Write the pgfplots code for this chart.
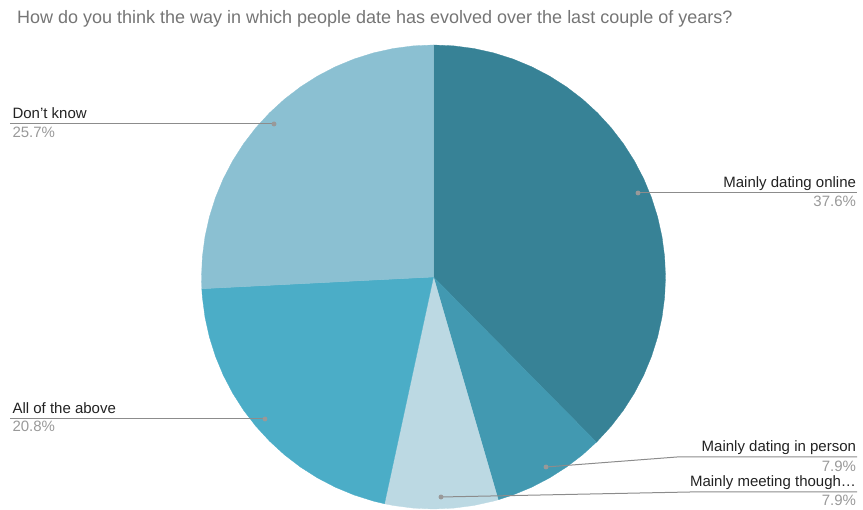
\documentclass[border=0pt]{standalone}
\usepackage{pgfplots}
\pgfplotsset{compat=1.18}
\usepackage{fontspec}
\setmainfont{Liberation Sans}
\definecolor{cOnline}{RGB}{55,130,150}
\definecolor{cPerson}{RGB}{66,153,177}
\definecolor{cMeet}{RGB}{188,217,227}
\definecolor{cAll}{RGB}{75,173,199}
\definecolor{cDont}{RGB}{139,192,210}
\definecolor{cTitle}{RGB}{117,117,117}
\definecolor{cName}{RGB}{34,34,34}
\definecolor{cPct}{RGB}{153,153,153}
\definecolor{cLine}{RGB}{140,140,140}
\begin{document}
\begin{tikzpicture}
\begin{axis}[
  x=1bp, y=1bp, scale only axis,
  xmin=-433.5, xmax=429.5, ymin=-233, ymax=277,
  axis lines=none, ticks=none, clip=false,
  every node/.style={inner sep=0pt, outer sep=0pt},
]
% invisible frame for bounding box
\addplot[draw=none, forget plot] coordinates {(-433.5,-233) (429.5,277)};
% Mainly dating online 37.6%
\addplot[data cs=polar, fill=cOnline, draw=cOnline, line width=0.3bp] coordinates {
(0,0) (90,232) (85,232) (80,232) (75,232) (70,232) (65,232) (60,232) (55,232) (50,232) (45,232) (40,232) (35,232) (30,232) (25,232) (20,232) (15,232) (10,232) (5,232) (0,232) (-5,232) (-10,232) (-15,232) (-20,232) (-25,232) (-30,232) (-35,232) (-40,232) (-45,232) (-45.4,232)} -- cycle;
% Mainly dating in person 7.9%
\addplot[data cs=polar, fill=cPerson, draw=cPerson, line width=0.3bp] coordinates {
(0,0) (-45.4,232) (-50,232) (-55,232) (-60,232) (-65,232) (-70,232) (-73.8,232)} -- cycle;
% Mainly meeting though... 7.9%
\addplot[data cs=polar, fill=cMeet, draw=cMeet, line width=0.3bp] coordinates {
(0,0) (-73.8,232) (-75,232) (-80,232) (-85,232) (-90,232) (-95,232) (-100,232) (-102.2,232)} -- cycle;
% All of the above 20.8%
\addplot[data cs=polar, fill=cAll, draw=cAll, line width=0.3bp] coordinates {
(0,0) (-102.2,232) (-105,232) (-110,232) (-115,232) (-120,232) (-125,232) (-130,232) (-135,232) (-140,232) (-145,232) (-150,232) (-155,232) (-160,232) (-165,232) (-170,232) (-175,232) (-177.1,232)} -- cycle;
% Don't know 25.7%
\addplot[data cs=polar, fill=cDont, draw=cDont, line width=0.3bp] coordinates {
(0,0) (-177.1,232) (-180,232) (-185,232) (-190,232) (-195,232) (-200,232) (-205,232) (-210,232) (-215,232) (-220,232) (-225,232) (-230,232) (-235,232) (-240,232) (-245,232) (-250,232) (-255,232) (-260,232) (-265,232) (-270,232)} -- cycle;
% leader lines
\addplot[cLine, line width=1bp] coordinates {(204.5,84) (423.5,84)};
\addplot[cLine, line width=1bp] coordinates {(112.5,-190) (243.5,-180) (423.5,-180)};
\addplot[cLine, line width=1bp] coordinates {(7.5,-220) (256.5,-215) (423.5,-215)};
\addplot[cLine, line width=1bp] coordinates {(-168.5,-142) (-423.5,-142)};
\addplot[cLine, line width=1bp] coordinates {(-159.5,153) (-423.5,153)};
% dots
\addplot[only marks, mark=*, mark size=2.2bp, cPct, mark options={draw=cPct, fill=cPct}] coordinates {
(204.5,84) (112.5,-190) (7.5,-220) (-168.5,-142) (-159.5,153)};
% title
\node[anchor=base west, text=cTitle, font=\fontsize{18bp}{21bp}\selectfont] at (axis cs:-420,253) {How do you think the way in which people date has evolved over the last couple of years?};
% labels
\begin{scope}[every node/.append style={font=\fontsize{15bp}{17bp}\selectfont}]
\node[anchor=base east, text=cName] at (axis cs:426,89) {Mainly dating online};
\node[anchor=base east, text=cPct] at (axis cs:426,70.5) {37.6\%};
\node[anchor=base east, text=cName] at (axis cs:426,-175) {Mainly dating in person};
\node[anchor=base east, text=cPct] at (axis cs:426,-195) {7.9\%};
\node[anchor=base east, text=cName] at (axis cs:426,-210) {Mainly meeting though…};
\node[anchor=base east, text=cPct] at (axis cs:426,-229) {7.9\%};
\node[anchor=base west, text=cName] at (axis cs:-424.5,158.5) {Don’t know};
\node[anchor=base west, text=cPct] at (axis cs:-424.5,139.5) {25.7\%};
\node[anchor=base west, text=cName] at (axis cs:-424.5,-137) {All of the above};
\node[anchor=base west, text=cPct] at (axis cs:-424.5,-155) {20.8\%};
\end{scope}
\end{axis}
\end{tikzpicture}
\end{document}
